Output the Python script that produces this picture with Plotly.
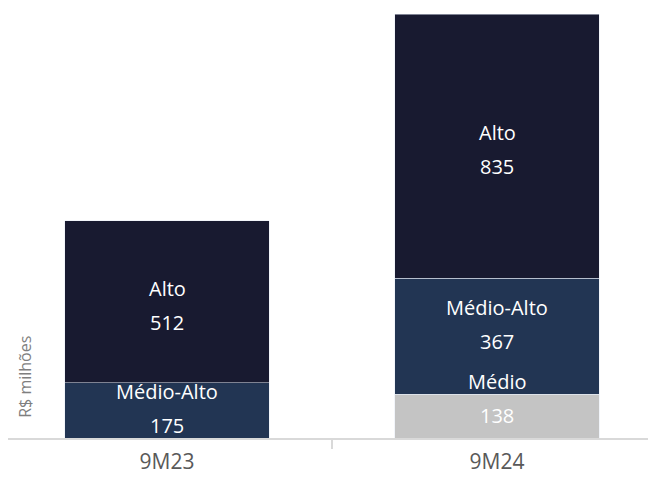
import plotly.graph_objects as go

# dados (R$ milhões)
periodos = ["9M23", "9M24"]
segmentos = ["Médio", "Médio-Alto", "Alto"]
medio = [0, 138]
medio_alto = [175, 367]
alto = [512, 835]

cores = {"Médio": "#c4c4c4", "Médio-Alto": "#223553", "Alto": "#181a30"}
cor_texto = {"Médio": "#ffffff", "Médio-Alto": "#ffffff", "Alto": "#ffffff"}
# deslocamento vertical (px) do par rótulo/valor em cada barra
desloc = {"Médio": [0, 18], "Médio-Alto": [2, 12], "Alto": [-4, -3]}

valores = {"Médio": medio, "Médio-Alto": medio_alto, "Alto": alto}
fonte = "Open Sans"

fig = go.Figure()
for seg in segmentos:
    fig.add_trace(go.Bar(
        x=periodos,
        y=valores[seg],
        name=seg,
        marker_color=cores[seg],
        width=0.62,
        hoverinfo="skip",
    ))

# rótulos de dados no centro de cada segmento
base = [0] * len(periodos)
for seg in segmentos:
    for i, p in enumerate(periodos):
        v = valores[seg][i]
        if v > 0:
            meio = base[i] + v / 2
            off = desloc[seg][i]
            fig.add_annotation(x=p, y=meio, text=seg, showarrow=False,
                               yshift=17 + off, font=dict(family=fonte, size=20, color=cor_texto[seg]))
            fig.add_annotation(x=p, y=meio, text=str(v), showarrow=False,
                               yshift=-17 + off, font=dict(family=fonte, size=20, color=cor_texto[seg]))
        base[i] += v

fig.add_annotation(text="R$ milhões", xref="paper", yref="paper", x=0.026, y=0.142,
                   xanchor="center", yanchor="middle",
                   textangle=-90, showarrow=False,
                   font=dict(family=fonte, size=16, color="#7f7f7f"))

# a página tem margem de 8px, por isso a figura é 8px menor
fig.update_layout(
    width=648, height=480,
    margin=dict(l=0, r=0, t=0, b=50),
    barmode="stack",
    plot_bgcolor="white",
    paper_bgcolor="white",
    showlegend=False,
    font=dict(family=fonte),
    xaxis=dict(
        range=[-0.4818, 1.4818],
        showline=True, linecolor="#d9d9d9", linewidth=2,
        ticks="outside", tickson="boundaries", ticklen=9, tickwidth=2, tickcolor="#d9d9d9",
        tickfont=dict(family=fonte, size=21, color="#595959"),
        ticklabelstandoff=4,
        showgrid=False,
    ),
    yaxis=dict(range=[0, 1359], visible=False, showgrid=False),
)

fig.write_html("out.html")
